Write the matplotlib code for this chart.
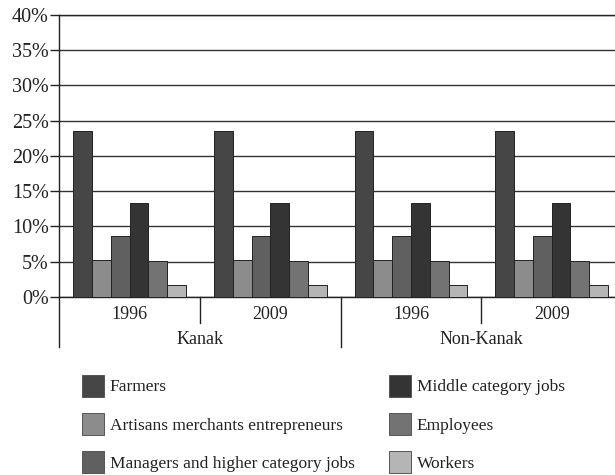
import matplotlib
matplotlib.use('Agg')
import matplotlib.pyplot as plt
import numpy as np

plt.rcParams['font.family'] = ['Liberation Serif', 'DejaVu Serif']

categories = ['Farmers', 'Artisans merchants entrepreneurs', 'Managers and higher category jobs',
              'Middle category jobs', 'Employees', 'Workers']
years = ['1996', '2009', '1996', '2009']
groups = ['Kanak', 'Non-Kanak']
values = {
    'Farmers': [23.5, 23.5, 23.5, 23.5],
    'Artisans merchants entrepreneurs': [5.2, 5.2, 5.2, 5.2],
    'Managers and higher category jobs': [8.7, 8.7, 8.7, 8.7],
    'Middle category jobs': [13.3, 13.3, 13.3, 13.3],
    'Employees': [5.1, 5.1, 5.1, 5.1],
    'Workers': [1.75, 1.75, 1.75, 1.75],
}
colors = ['#454645', '#8c8c8c', '#606060', '#333433', '#727372', '#b4b5b4']

fig = plt.figure(figsize=(6.15, 4.75), dpi=100)
ax = fig.add_axes([59.3 / 615, 0.3747, 1 - 59.3 / 615, 0.594])

fs = 13
x = np.arange(len(years))
w = 0.8 / len(categories)
for i, cat in enumerate(categories):
    ax.bar(x - 0.4 + w * (i + 0.5), values[cat], width=w, color=colors[i],
           edgecolor='#222222', linewidth=0.7, label=cat, zorder=3)

ax.set_xlim(-0.5, 3.45)
ax.set_ylim(0, 40)
ax.set_yticks(range(0, 41, 5))
ax.set_yticklabels(['%d%%' % v for v in range(0, 41, 5)], fontsize=14.5, color='#222222')
ax.yaxis.grid(True, color='#333333', linewidth=1.0, zorder=0)
ax.set_xticks([])
ax.tick_params(axis='y', length=6.5, width=1, color='#222222', pad=1)
for s in ['left', 'bottom', 'top']:
    ax.spines[s].set_color('#222222')
    ax.spines[s].set_linewidth(1.0)
ax.spines['right'].set_visible(False)

# hierarchical x labels
tr = ax.get_xaxis_transform()
h = 282.3
for i, y in enumerate(years):
    ax.text(i, -17 / h, y, transform=tr, ha='center', va='center', fontsize=fs, color='#222222')
for j, g in enumerate(groups):
    ax.text(2 * j + 0.5, -43 / h, g, transform=tr, ha='center', va='center', fontsize=fs, color='#222222')
for xs in [0.5, 2.5]:
    ax.plot([xs, xs], [0, -26 / h], transform=tr, color='#222222', lw=1, clip_on=False)
for xs in [-0.5, 1.5]:
    ax.plot([xs, xs], [0, -50 / h], transform=tr, color='#222222', lw=1, clip_on=False)

leg = fig.legend(loc='upper left', bbox_to_anchor=(66 / 615, 1 - 359 / 475), ncol=2, frameon=False,
                 fontsize=12.5, handlelength=1.27, handleheight=1.57, handletextpad=0.35,
                 columnspacing=1.96, labelspacing=0.94)
for t in leg.get_texts():
    t.set_color('#222222')
for p in leg.get_patches():
    p.set_edgecolor('#555555')

fig.savefig('out.png', dpi=100)
